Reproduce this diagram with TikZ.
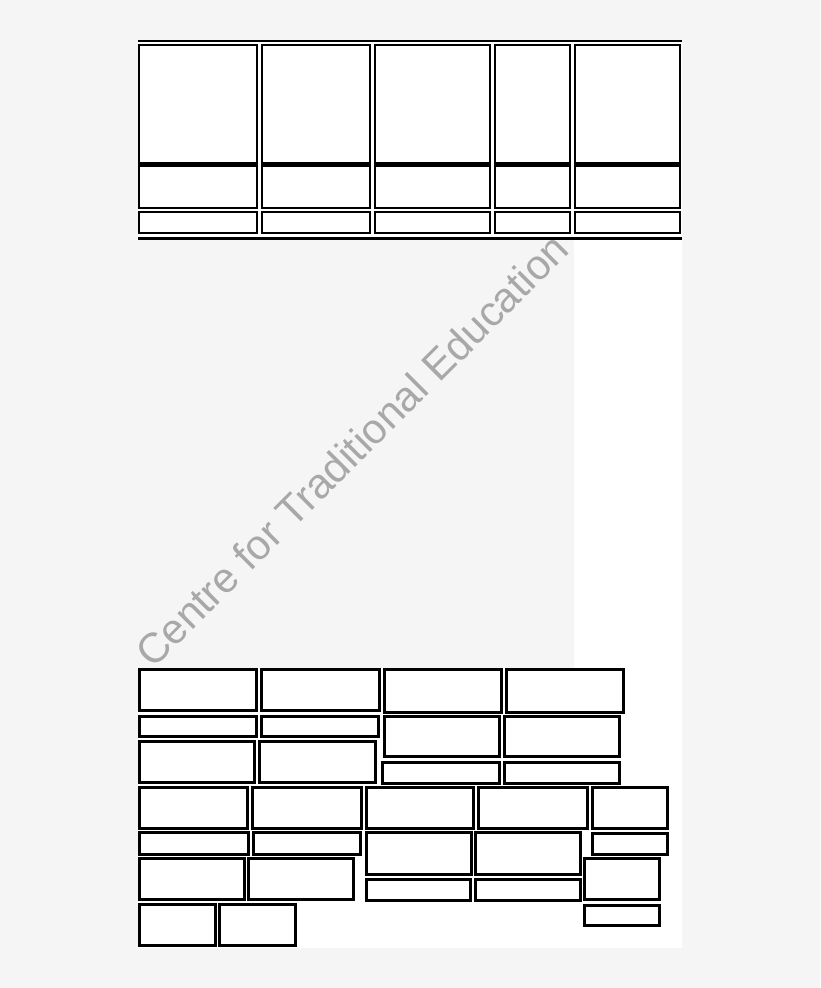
\documentclass[tikz,border=0pt]{standalone}
\usepackage{fontspec}
\newfontfamily\wmfont{Liberation Sans}
\definecolor{bgray}{RGB}{245,245,245}
\definecolor{wmgray}{RGB}{168,168,168}
\tikzset{
  topbox/.style={draw=black,line width=2pt,fill=white},
  bandline/.style={draw=black,line width=4.5pt},
  ruleline/.style={draw=black,line width=2.5pt},
  brickline/.style={draw=black,line width=3.4pt,fill=white},
  watermark/.style={text=wmgray,font=\wmfont\fontsize{42}{50}\selectfont,inner sep=0pt,rotate=45,anchor=base west}
}
\newcommand\mybrick[4]{\draw[brickline] ({#1+1.7},{#2+1.7}) rectangle ({#3-1.7},{#4-1.7});}
\newcommand\mycol[2]{%
  \draw[topbox] ({#1+1},45) rectangle ({#2-1},163);
  \draw[topbox] ({#1+1},166) rectangle ({#2-1},208);
  \draw[topbox] ({#1+1},212) rectangle ({#2-1},233);
  \draw[bandline] (#1,164.5) -- (#2,164.5);}
\begin{document}
\begin{tikzpicture}[x=1pt,y=-1pt]
\useasboundingbox (0,0) rectangle (820,988);
\fill[bgray] (0,0) rectangle (820,988);
% watermark on grey area
\node[watermark] (wm) at (153,670) {Centre for Traditional Education};
% white paper region
\fill[white] (138,40) -- (682,40) -- (682,948) -- (138,948) -- (138,668) -- (574,668) -- (574,240) -- (138,240) -- cycle;
% top table
\draw[ruleline] (138,41) -- (682,41);
\mycol{138}{258}
\mycol{261}{371}
\mycol{374}{491}
\mycol{494}{571}
\mycol{574}{681}
\draw[ruleline] (138,238.5) -- (682,238.5);
% bottom bricks
% row A
\mybrick{138}{668}{258}{712}
\mybrick{260}{668}{381}{712}
\mybrick{383}{668}{503}{714}
\mybrick{505}{668}{625}{714}
% row B
\mybrick{138}{715}{258}{738}
\mybrick{260}{715}{380}{738}
\mybrick{383}{715}{501}{758}
\mybrick{503}{715}{621}{758}
% row C
\mybrick{138}{740}{256}{784}
\mybrick{258}{740}{377}{784}
\mybrick{381}{761}{501}{785}
\mybrick{503}{761}{621}{785}
% row D
\mybrick{138}{786}{249}{830}
\mybrick{251}{786}{363}{830}
\mybrick{365}{786}{475}{830}
\mybrick{477}{786}{589}{830}
\mybrick{591}{786}{669}{830}
% row E
\mybrick{138}{831}{250}{856}
\mybrick{252}{831}{362}{856}
\mybrick{365}{831}{473}{876}
\mybrick{474}{831}{582}{876}
\mybrick{591}{832}{669}{856}
% row F
\mybrick{138}{857}{246}{901}
\mybrick{247}{857}{355}{901}
\mybrick{365}{878}{472}{902}
\mybrick{474}{878}{582}{902}
\mybrick{583}{857}{661}{901}
% row G
\mybrick{138}{903}{217}{947}
\mybrick{218}{903}{297}{947}
\mybrick{583}{904}{661}{927}
\end{tikzpicture}
\end{document}
